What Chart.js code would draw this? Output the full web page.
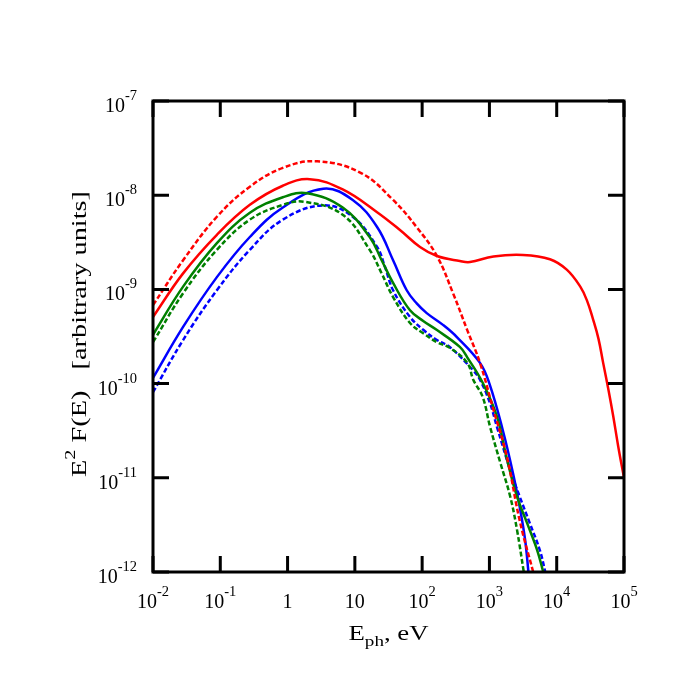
<!DOCTYPE html>
<html><head><meta charset="utf-8">
<script src="https://cdn.jsdelivr.net/npm/chart.js@4/dist/chart.umd.min.js"></script>
<style>html,body{margin:0;padding:0;background:#fff;}canvas{display:block}</style>
</head><body>
<canvas id="c" width="692" height="675"></canvas>
<script>
// ---- data (photon energy in eV, E^2 F(E) in arbitrary units) ----
const redSolidE = [0.01, 0.028, 0.089, 0.275, 0.85, 2.14, 6.6, 21.4, 46.8, 93, 166, 363, 513, 1150, 3160, 7940, 14100, 22400, 28200, 34700, 41700, 49000, 58900, 69200, 82200, 100000];
const redSolidF = [5.1e-10, 1.48e-9, 3.8e-9, 7.9e-9, 1.26e-8, 1.48e-8, 1.15e-8, 6.6e-9, 4.27e-9, 2.82e-9, 2.26e-9, 2.0e-9, 1.95e-9, 2.24e-9, 2.32e-9, 2.09e-9, 1.62e-9, 1.07e-9, 7.6e-10, 4.8e-10, 3.0e-10, 1.66e-10, 8.5e-11, 4.5e-11, 2.14e-11, 1.0e-11];

const redDashE = [0.01, 0.028, 0.089, 0.275, 0.85, 2.75, 12, 37, 83, 166, 288, 468, 724, 1120, 1820, 2820, 4470];
const redDashF = [6.8e-10, 2.04e-9, 5.9e-9, 1.23e-8, 1.95e-8, 2.29e-8, 1.74e-8, 8.9e-9, 4.57e-9, 2.26e-9, 9.1e-10, 3.7e-10, 1.66e-10, 5.6e-11, 1.66e-11, 3.5e-12, 1.0e-12];

const greenSolidE = [0.01, 0.028, 0.089, 0.275, 0.85, 1.95, 6.6, 16.6, 25, 37, 66, 105, 166, 363, 468, 794, 1290, 1820, 2570, 3630, 5130, 6310];
const greenSolidF = [3.3e-10, 1.07e-9, 3.1e-9, 6.5e-9, 9.5e-9, 1.05e-8, 7.4e-9, 3.6e-9, 2.04e-9, 1.17e-9, 6.0e-10, 4.6e-10, 3.7e-10, 2.45e-10, 1.9e-10, 1.02e-10, 4.5e-11, 1.58e-11, 6.3e-12, 3.3e-12, 1.7e-12, 1.0e-12];

const greenDashE = [0.01, 0.028, 0.089, 0.275, 0.85, 1.8, 6.6, 16.6, 25, 37, 66, 105, 166, 257, 468, 575, 794, 1020, 1450, 2040, 2570, 3240];
const greenDashF = [2.75e-10, 9.1e-10, 2.63e-9, 5.5e-9, 7.9e-9, 8.5e-9, 6.2e-9, 2.63e-9, 1.48e-9, 8.3e-10, 4.4e-10, 3.4e-10, 2.75e-10, 2.4e-10, 1.66e-10, 1.1e-10, 7.2e-11, 3.5e-11, 1.45e-11, 6.3e-12, 2.8e-12, 1.0e-12];

const blueSolidE = [0.01, 0.028, 0.089, 0.275, 0.85, 3.4, 9.3, 21.4, 37, 59, 83, 117, 204, 331, 724, 1000, 1580, 2240, 2820, 3390, 3800];
const blueSolidF = [1.15e-10, 4.0e-10, 1.35e-9, 3.6e-9, 7.4e-9, 1.17e-8, 8.9e-9, 4.6e-9, 2.04e-9, 9.8e-10, 7.1e-10, 5.6e-10, 4.2e-10, 3.1e-10, 1.66e-10, 1.0e-10, 3.2e-11, 1.12e-11, 4.9e-12, 2.2e-12, 1.0e-12];

const blueDashE = [0.01, 0.028, 0.089, 0.275, 0.85, 3.4, 9.3, 21.4, 28, 37, 66, 105, 166, 257, 575, 724, 1020, 1290, 2040, 2820, 3980, 5620, 6760];
const blueDashF = [8.1e-11, 2.9e-10, 9.8e-10, 2.63e-9, 5.5e-9, 7.8e-9, 5.9e-9, 2.82e-9, 1.74e-9, 9.8e-10, 5.1e-10, 3.7e-10, 2.9e-10, 2.45e-10, 1.38e-10, 1.1e-10, 6.2e-11, 3.5e-11, 1.2e-11, 6.3e-12, 3.3e-12, 1.7e-12, 1.0e-12];

const xTickExponents = [-2, -1, 0, 1, 2, 3, 4, 5];
const xTickLabels = [["10","-2"], ["10","-1"], ["1",""], ["10",""], ["10","2"], ["10","3"], ["10","4"], ["10","5"]];
const yTickExponents = [-12, -11, -10, -9, -8, -7];
const yTickLabels = [["10","-12"], ["10","-11"], ["10","-10"], ["10","-9"], ["10","-8"], ["10","-7"]];

const xTitleParts = [["E", "main"], ["ph", "sub"], [", eV", "main"]];
const yTitleParts = [["E", "main"], ["2", "sup"], [" F(E)   [arbitrary units]", "main"]];

// ---- chart ----
const FONT = '"Liberation Serif", "Times New Roman", serif';
function pts(E, F) { return E.map((e, i) => ({ x: e, y: F[i] })); }
function ds(E, F, color, dashed) {
  return {
    data: pts(E, F), borderColor: color, borderWidth: 2.5, pointRadius: 0,
    borderDash: dashed ? [5, 2.5] : [], fill: false, tension: 0.4, clip: 1
  };
}

const frame = {
  id: 'frame',
  afterDraw(chart) {
    const { ctx, chartArea: ca, scales: { x, y } } = chart;
    ctx.save();
    ctx.strokeStyle = '#000';
    ctx.lineWidth = 3;
    ctx.lineCap = 'butt';
    ctx.beginPath();
    x.ticks.forEach(t => {
      const px = x.getPixelForValue(t.value);
      ctx.moveTo(px, ca.bottom); ctx.lineTo(px, ca.bottom - 16);
      ctx.moveTo(px, ca.top); ctx.lineTo(px, ca.top + 16);
    });
    y.ticks.forEach(t => {
      const py = y.getPixelForValue(t.value);
      ctx.moveTo(ca.left, py); ctx.lineTo(ca.left + 16, py);
      ctx.moveTo(ca.right, py); ctx.lineTo(ca.right - 16, py);
    });
    ctx.stroke();
    ctx.strokeRect(ca.left, ca.top, ca.right - ca.left, ca.bottom - ca.top);

    ctx.fillStyle = '#000';
    ctx.textBaseline = 'alphabetic';
    const baseFont = '20px ' + FONT, expFont = '14.5px ' + FONT;
    x.ticks.forEach(t => {
      const e = Math.round(Math.log10(t.value));
      const lab = xTickLabels[xTickExponents.indexOf(e)];
      if (!lab) return;
      const px = x.getPixelForValue(t.value);
      ctx.font = baseFont; const wb = ctx.measureText(lab[0]).width;
      ctx.font = expFont; const we = lab[1] ? ctx.measureText(lab[1]).width : 0;
      const start = px - (wb + we) / 2;
      ctx.textAlign = 'left';
      ctx.font = baseFont; ctx.fillText(lab[0], start, ca.bottom + 36);
      if (lab[1]) { ctx.font = expFont; ctx.fillText(lab[1], start + wb, ca.bottom + 24); }
    });
    y.ticks.forEach(t => {
      const e = Math.round(Math.log10(t.value));
      const lab = yTickLabels[yTickExponents.indexOf(e)];
      if (!lab) return;
      const py = y.getPixelForValue(t.value);
      const rx = ca.left - 16;
      ctx.textAlign = 'right';
      ctx.font = expFont; const we = lab[1] ? ctx.measureText(lab[1]).width : 0;
      if (lab[1]) ctx.fillText(lab[1], rx, py - 1);
      ctx.font = baseFont; ctx.fillText(lab[0], rx - we, py + 11);
    });

    function drawParts(parts, cx, baseY, length) {
      const sizes = { main: 21, sub: 15, sup: 15 };
      const dys = { main: 0, sub: 6, sup: -11 };
      let total = 0;
      parts.forEach(p => { ctx.font = sizes[p[1]] + 'px ' + FONT; total += ctx.measureText(p[0]).width; });
      const sx = length / total;
      ctx.save();
      ctx.translate(cx - length / 2, baseY);
      ctx.scale(sx, 1);
      ctx.textAlign = 'left';
      let pos = 0;
      parts.forEach(p => {
        ctx.font = sizes[p[1]] + 'px ' + FONT;
        ctx.fillText(p[0], pos, dys[p[1]]);
        pos += ctx.measureText(p[0]).width;
      });
      ctx.restore();
    }
    const xc = (ca.left + ca.right) / 2;
    drawParts(xTitleParts, xc, 640, 80);
    ctx.save();
    ctx.translate(86, 334);
    ctx.rotate(-Math.PI / 2);
    drawParts(yTitleParts, 0, 0, 286);
    ctx.restore();
    ctx.restore();
  }
};

new Chart(document.getElementById('c'), {
  type: 'line',
  data: {
    datasets: [
      ds(redSolidE, redSolidF, '#ff0000', false),
      ds(redDashE, redDashF, '#ff0000', true),
      ds(greenSolidE, greenSolidF, '#008000', false),
      ds(greenDashE, greenDashF, '#008000', true),
      ds(blueSolidE, blueSolidF, '#0000ff', false),
      ds(blueDashE, blueDashF, '#0000ff', true)
    ]
  },
  options: {
    responsive: false,
    devicePixelRatio: 1,
    animation: false,
    events: [],
    layout: { padding: { left: 53, right: 68, top: 101, bottom: 13 } },
    plugins: { legend: { display: false }, tooltip: { enabled: false } },
    scales: {
      x: {
        type: 'logarithmic', min: 0.01, max: 1e5,
        grid: { display: false }, border: { display: false },
        ticks: { display: false },
        afterBuildTicks: s => { s.ticks = xTickExponents.map(e => ({ value: Math.pow(10, e) })); },
        afterFit: s => { s.height = 90; }
      },
      y: {
        type: 'logarithmic', min: 1e-12, max: 1e-7,
        grid: { display: false }, border: { display: false },
        ticks: { display: false },
        afterBuildTicks: s => { s.ticks = yTickExponents.map(e => ({ value: Math.pow(10, e) })); },
        afterFit: s => { s.width = 100; }
      }
    }
  },
  plugins: [frame]
});
</script>
</body></html>
